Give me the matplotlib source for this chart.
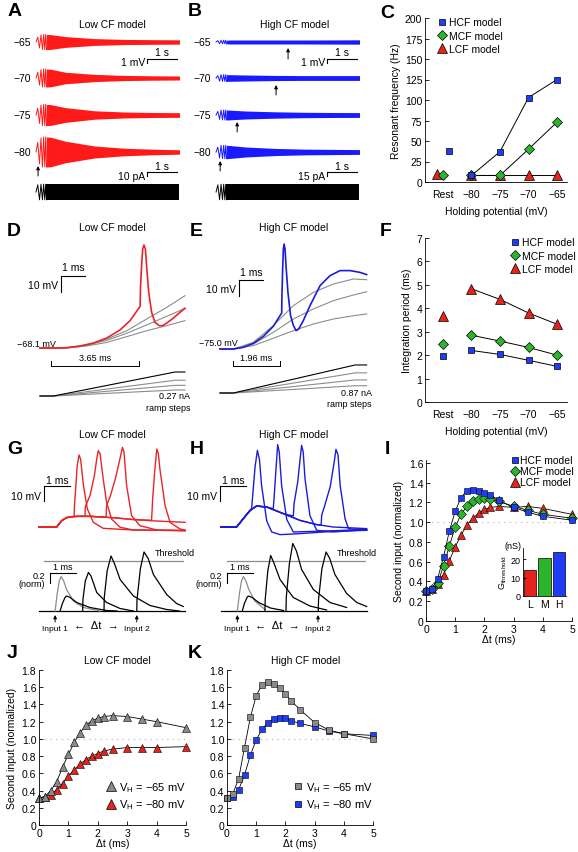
import numpy as np
import matplotlib
matplotlib.use('Agg')
import matplotlib.pyplot as plt
from matplotlib.lines import Line2D

plt.rcParams['font.family'] = ['Liberation Sans', 'DejaVu Sans']
plt.rcParams['font.size'] = 7.5

W, H = 578, 853
fig = plt.figure(figsize=(W / 100, H / 100), dpi=100)

# colours
RED = '#ff1a1a'
RED2 = '#e8242a'
BLUE = '#1a1aff'
BLUE2 = '#1c1cd6'
MBLUE = '#1f3df5'
MGREEN = '#2bb52b'
MRED = '#e5231b'
GRAY = '#8c8c8c'
MGRAY = '#8a8a8a'

# ---------------- data: A / B (chirp responses) ----------------
holding = ['\u221265', '\u221270', '\u221275', '\u221280']
row_offset = [0, -9, -18.25, -27.5]          # display offsets of stacked rows (mV)
zig_t = [0.0, 0.06, 0.12, 0.17, 0.22, 0.26, 0.30, 0.33, 0.36]   # s
env_t = [0.35, 0.5, 1.0, 2.0, 3.0, 4.0, 4.9]                   # s

low_zig = [[0, 1.2, -1.5, 1.8, -1.9, 1.9, -1.9, 1.9, -1.9],
           [0, 1.4, -1.8, 2.1, -2.25, 2.25, -2.25, 2.25, -2.25],
           [0, 1.7, -2.1, 2.5, -2.65, 2.65, -2.65, 2.65, -2.65],
           [0, 2.4, -3.0, 3.5, -3.75, 3.75, -3.75, 3.75, -3.75]]
low_env = [[1.9, 1.85, 1.35, 0.85, 0.65, 0.58, 0.54],
           [2.25, 2.2, 1.45, 0.9, 0.65, 0.55, 0.5],
           [2.65, 2.6, 1.85, 1.05, 0.75, 0.62, 0.58],
           [3.75, 3.7, 2.7, 1.5, 0.95, 0.7, 0.55]]
high_zig = [[0, 0.35, -0.45, 0.45, -0.45, 0.45, -0.45, 0.45, -0.45],
            [0, 0.6, -0.8, 0.85, -0.85, 0.85, -0.85, 0.85, -0.85],
            [0, 0.9, -1.1, 1.25, -1.25, 1.25, -1.25, 1.25, -1.25],
            [0, 1.2, -1.5, 1.67, -1.67, 1.67, -1.67, 1.67, -1.67]]
high_env = [[0.45, 0.5, 0.5, 0.5, 0.5, 0.52, 0.55],
            [0.85, 0.82, 0.75, 0.65, 0.6, 0.6, 0.6],
            [1.25, 1.2, 1.0, 0.8, 0.68, 0.62, 0.6],
            [1.67, 1.6, 1.25, 0.9, 0.72, 0.65, 0.6]]
cur_zig_low = [0, 18, -19.5, 19.5, -19.5, 19.5, -19.5, 19.5, -19.5]     # pA
cur_env_low = [19.5, 19.5, 19.5, 19.5, 19.5, 19.5, 19.5]
cur_zig_high = [0, 27, -29, 29, -29, 29, -29, 29, -29]
cur_env_high = [29, 29, 29, 29, 29, 29, 29]
arrows_low = [(0.07, -33.5, -31.0)]
arrows_high = [(2.46, -4.25, -1.5), (2.05, -13.25, -10.75),
               (0.72, -22.5, -20.0), (0.14, -32.25, -29.75)]

# ---------------- data: C / F ----------------
cats = ['Rest', '\u221280', '\u221275', '\u221270', '\u221265']
res_hcf = [38, 8, 37, 103, 125]
res_mcf = [8, 8, 8, 40, 73]
res_lcf = [10, 9, 9, 9, 9]
int_hcf = [1.95, 2.2, 2.03, 1.78, 1.52]
int_mcf = [2.48, 2.85, 2.6, 2.33, 2.0]
int_lcf = [3.68, 4.83, 4.38, 3.8, 3.32]

# ---------------- data: D / E (ramp responses) ----------------
d_red_t = [0, 0.56, 1.11, 1.67, 2.22, 2.78, 3.33, 3.75, 4.17, 4.19, 4.24, 4.28,
           4.33, 4.39, 4.44, 4.53, 4.65, 4.79, 4.97, 5.11, 5.28, 5.56, 5.83, 6.04]
d_red_v = [-68.1, -68.1, -67.9, -66.85, -65.0, -61.85, -56.85, -51.0, -42.1, -29.1,
           -14.6, -6.2, -3.7, -6.2, -16.6, -33.3, -45.8, -52.1, -54.1, -54.1,
           -52.5, -49.35, -45.8, -43.3]
d_gray_t = [0, 1.11, 1.94, 2.78, 3.61, 4.44, 5.28, 6.04]
d_gray_v = [[-68.1, -67.9, -66.2, -62.5, -57.3, -50.0, -42.7, -35.4],
            [-68.1, -67.9, -66.4, -63.3, -58.9, -53.7, -48.3, -43.3],
            [-68.1, -68.1, -66.85, -64.6, -61.0, -57.3, -54.1, -51.0]]
d_ramp_t = [0, 0.56, 5.63, 6.04]
d_ramp_amp = [1.08, 0.71, 0.48, 0.27]       # nA, black first

e_blue_t = [0, 0.56, 0.97, 1.39, 1.81, 2.22, 2.57, 2.58, 2.61, 2.64, 2.67, 2.71, 2.75,
            2.83, 2.94, 3.06, 3.17, 3.28, 3.47, 3.75, 4.17, 4.58, 5.0, 5.42, 5.83, 6.11]
e_blue_v = [-75, -75, -73.96, -71.46, -67.08, -60.83, -52.5, -41.67, -25, -12.5, -9.4,
            -12.5, -22.9, -39.6, -54.2, -60.4, -63.5, -62.5, -57.3, -47.9, -35.4,
            -29.2, -26.0, -26.0, -27.1, -28.5]
e_gray_t = [0, 0.56, 1.39, 2.22, 3.06, 3.89, 4.72, 5.56, 6.11]
e_gray_v = [[-75, -75, -70.8, -60.4, -47.9, -39.6, -34.4, -31.25, -31.7],
            [-75, -75, -71.9, -64.6, -56.25, -50, -44.8, -41.25, -39.2],
            [-75, -75, -72.9, -68.3, -63.5, -59.4, -56.25, -54.2, -53.1]]
e_ramp_t = [0, 0.56, 5.63, 6.11]
e_ramp_amp = [3.48, 2.5, 1.62, 0.9]

# ---------------- data: G / H (coincidence traces) ----------------
g_hump_t = [0, 0.68, 0.87, 1.06, 1.19, 1.35]
g_hump_v = [-65, -65, -60.8, -58.8, -58.3, -58.0]
g_tails = [
    ([1.54, 2.0, 2.5, 3.0, 3.6, 4.3, 5.0, 5.62],
     [-57.9, -57.9, -58.4, -59.0, -60.0, -60.8, -61.4, -61.9]),
    ([1.36, 1.47, 1.54, 1.60, 1.71, 1.86, 2.09, 2.47, 3.63, 5.62],
     [-51.9, -24.1, -17.0, -19.7, -37.4, -53.0, -61.9, -65.9, -67.0, -67.4]),
    ([1.54, 1.77, 1.78, 1.96, 2.13, 2.22, 2.28, 2.35, 2.47, 2.6, 2.79, 3.12, 3.63, 5.62],
     [-57.9, -57.9, -51.5, -44.1, -30.8, -19.7, -14.1, -16.3, -33, -48.6, -59.7, -65.2, -67.0, -67.4]),
    ([1.54, 2.0, 2.58, 2.60, 2.75, 2.95, 3.12, 3.21, 3.27, 3.37, 3.56, 3.88, 4.53, 5.62],
     [-57.9, -57.9, -58.6, -50.8, -44, -32, -19, -11.9, -15, -37.4, -57.4, -64.1, -67.0, -67.4]),
    ([1.54, 2.0, 2.5, 3.0, 3.6, 4.33, 4.37, 4.45, 4.53, 4.59, 4.65, 4.85, 5.04, 5.42, 5.62],
     [-57.9, -57.9, -58.4, -59.0, -60.0, -60.5, -46.5, -28, -13.0, -16, -26.3, -50.8, -61.9, -66.3, -67.0]),
]
h_hump_t = [0, 0.60, 0.86, 1.12]
h_hump_v = [-65, -65, -59.4, -53.9]
h_tails = [
    ([1.37, 1.76, 2.40, 3.04, 3.68, 4.32, 5.60],
     [-51.0, -51.7, -56.1, -60.6, -63.4, -65.0, -66.1]),
    ([1.18, 1.21, 1.31, 1.40, 1.48, 1.56, 1.76, 1.95, 2.27, 3.04, 4.32, 5.60],
     [-52.5, -46.1, -25, -13.9, -20, -37.2, -61, -68.3, -70.1, -69.4, -67.9, -67.2]),
    ([1.37, 1.76, 2.01, 2.04, 2.12, 2.18, 2.24, 2.33, 2.53, 2.78, 3.42, 4.32, 5.60],
     [-51.0, -51.7, -52.8, -46.1, -25, -10.1, -15, -37.2, -60, -68.3, -68.0, -67.5, -66.6]),
    ([1.37, 1.76, 2.40, 2.78, 2.81, 2.95, 3.04, 3.10, 3.16, 3.23, 3.42, 3.68, 4.32, 5.60],
     [-51.0, -51.7, -56.1, -57.7, -49.4, -35, -20, -10.6, -15, -32.8, -57.5, -67.2, -68.3, -66.8]),
    ([1.37, 1.76, 2.40, 3.04, 3.68, 3.85, 3.87, 4.0, 4.2, 4.35, 4.42, 4.5, 4.58, 4.77, 4.90, 5.60],
     [-51.0, -51.7, -56.1, -60.6, -63.4, -63.8, -57.2, -50, -38, -22, -13.2, -17, -37.2, -59.5, -66.1, -67.2]),
]
g_epsp_gray = ([0.62, 0.70, 0.78, 0.85, 0.95, 1.06, 1.32, 1.71, 2.35],
               [0, 0.35, 0.6, 0.69, 0.6, 0.43, 0.2, 0.07, 0])
g_epsp_black = [
    ([0.81, 0.9, 1.0, 1.06, 1.2, 1.45, 1.96, 2.6, 3.0],
     [0, 0.15, 0.27, 0.3, 0.27, 0.17, 0.07, 0.01, 0]),
    ([1.68, 1.69, 1.78, 1.90, 2.0, 2.22, 2.6, 3.12, 3.63],
     [0, 0.23, 0.6, 0.77, 0.7, 0.37, 0.17, 0.05, 0]),
    ([2.5, 2.51, 2.62, 2.77, 2.9, 3.12, 3.63, 4.27, 4.91, 5.4],
     [0, 0.27, 0.8, 1.1, 0.95, 0.63, 0.3, 0.11, 0.03, 0.0]),
    ([3.76, 3.77, 3.9, 4.04, 4.2, 4.4, 4.91, 5.29, 5.55],
     [0, 0.23, 0.85, 1.18, 1.05, 0.73, 0.33, 0.15, 0.09]),
]
h_epsp_gray = ([0.63, 0.71, 0.79, 0.86, 0.96, 1.07, 1.3, 1.69],
               [0, 0.35, 0.6, 0.69, 0.6, 0.43, 0.2, 0.03])
h_epsp_black = [
    ([0.82, 0.9, 1.0, 1.05, 1.2, 1.45, 1.9, 2.4],
     [0, 0.15, 0.27, 0.3, 0.27, 0.17, 0.06, 0.01]),
    ([1.69, 1.70, 1.80, 1.91, 2.02, 2.27, 2.78, 3.42, 4.06],
     [0, 0.23, 0.8, 1.11, 0.98, 0.63, 0.27, 0.1, 0.02]),
    ([2.50, 2.51, 2.63, 2.76, 2.90, 3.10, 3.55, 4.19, 4.83],
     [0, 0.27, 0.95, 1.35, 1.2, 0.83, 0.43, 0.17, 0.07]),
    ([3.74, 3.75, 3.88, 4.04, 4.18, 4.38, 4.83, 5.22, 5.6],
     [0, 0.23, 0.85, 1.18, 1.05, 0.73, 0.35, 0.17, 0.09]),
]

# ---------------- data: I / J / K ----------------
dt = [0, 0.2, 0.4, 0.6, 0.8, 1.0, 1.2, 1.4, 1.6, 1.8, 2.0, 2.2, 2.5, 3, 3.5, 4, 5]
sec_hcf = [0.30, 0.32, 0.43, 0.65, 0.91, 1.11, 1.25, 1.32, 1.33, 1.32, 1.30, 1.28, 1.22, 1.15, 1.10, 1.06, 1.02]
sec_mcf = [0.30, 0.32, 0.38, 0.56, 0.76, 0.95, 1.08, 1.16, 1.21, 1.24, 1.25, 1.24, 1.21, 1.16, 1.12, 1.08, 1.04]
sec_lcf = [0.30, 0.32, 0.37, 0.47, 0.61, 0.75, 0.87, 0.97, 1.04, 1.09, 1.13, 1.15, 1.16, 1.15, 1.16, 1.14, 1.08]
g_names = ['L', 'M', 'H']
g_thresh = [14, 20.5, 24]
low_m65 = [0.31, 0.33, 0.40, 0.50, 0.67, 0.82, 0.96, 1.07, 1.16, 1.21, 1.24, 1.26, 1.27, 1.26, 1.23, 1.20, 1.13]
low_m80 = [0.31, 0.33, 0.35, 0.41, 0.48, 0.57, 0.64, 0.71, 0.76, 0.80, 0.83, 0.86, 0.88, 0.90, 0.90, 0.90, 0.91]
high_m65 = [0.31, 0.36, 0.54, 0.90, 1.25, 1.50, 1.63, 1.66, 1.64, 1.59, 1.52, 1.44, 1.34, 1.19, 1.10, 1.06, 1.00]
high_m80 = [0.31, 0.33, 0.41, 0.58, 0.81, 0.99, 1.11, 1.19, 1.23, 1.24, 1.24, 1.21, 1.18, 1.14, 1.09, 1.06, 1.04]


# ---------------- helpers ----------------
def box(x0, y0, x1, y1):
    return fig.add_axes([x0 / W, 1 - y1 / H, (x1 - x0) / W, (y1 - y0) / H])


def trace_box(x0, y0, x1, y1, xlim, ylim):
    ax = box(x0, y0, x1, y1)
    ax.set_xlim(xlim)
    ax.set_ylim(ylim)
    ax.axis('off')
    return ax


def ftext(x, y, s, **kw):
    fig.text(x / W, 1 - y / H, s, **kw)


def scalebar(ax, x, y, dx, dy):
    ax.plot([x, x + dx], [y, y], color='k', lw=0.8, clip_on=False)
    ax.plot([x, x], [y, y - dy], color='k', lw=0.8, clip_on=False)


def up_arrow(ax, x, y0, y1):
    ax.annotate('', xy=(x, y1), xytext=(x, y0),
                arrowprops=dict(arrowstyle='-|>', lw=0.7, color='k', mutation_scale=5,
                                shrinkA=0, shrinkB=0))


def style(ax):
    for s in ['top', 'right']:
        ax.spines[s].set_visible(False)
    for s in ['left', 'bottom']:
        ax.spines[s].set_linewidth(0.6)
    ax.tick_params(direction='in', length=3, width=0.6, labelsize=7.5, pad=2)


for x, y, s in [(8, 12, 'A'), (188, 12, 'B'), (380, 13, 'C'), (7, 232, 'D'), (190, 232, 'E'),
                (380, 232, 'F'), (7, 450, 'G'), (190, 450, 'H'), (385, 450, 'I'),
                (7, 653, 'J'), (188, 653, 'K')]:
    ftext(x, y, s, fontsize=14, fontweight='bold', ha='left', va='center')

for x, y, s in [(112, 25, 'Low CF model'), (295, 25, 'High CF model'),
                (112, 228, 'Low CF model'), (294, 228, 'High CF model'),
                (112, 435, 'Low CF model'), (294, 435, 'High CF model'),
                (117, 661, 'Low CF model'), (306, 661, 'High CF model')]:
    ftext(x, y, s, fontsize=7.5, ha='center', va='center')


# ---------------- A / B ----------------
def chirp_panel(x0, x1, xlim, zigs, envs, color, arrows, cur_zig, cur_env, cur_ylim, cur_bar, cur_lab):
    ax = trace_box(x0, 28, x1, 182, xlim, (-34.75, 3.75))
    for i in range(4):
        off = row_offset[i]
        ax.plot(zig_t, np.array(zigs[i]) + off, color=color, lw=0.7)
        ax.fill_between(env_t, off - np.array(envs[i]), off + np.array(envs[i]), color=color, lw=0)
        ax.text(-0.17, off, holding[i], ha='right', va='center', fontsize=7.5)
    scalebar(ax, 3.8, -4.25, 1.0, 1.0)
    ax.text(4.3, -2.5, '1 s', ha='center', va='center')
    ax.text(3.72, -4.9, '1 mV', ha='right', va='center')
    for t, a, b in arrows:
        up_arrow(ax, t, a, b)
    axc = trace_box(x0, 165, x1, 205, xlim, cur_ylim)
    axc.plot(zig_t, cur_zig, color='k', lw=0.7)
    axc.fill_between(env_t, -np.array(cur_env), np.array(cur_env), color='k', lw=0)
    scalebar(axc, 3.8, cur_bar, 1.0, cur_bar / 5.0)
    axc.text(4.3, cur_bar * 1.3, '1 s', ha='center', va='center')
    axc.text(3.72, cur_bar * 0.8, cur_lab, ha='right', va='center')


chirp_panel(0, 195, (-1.23, 5.43), low_zig, low_env, RED, arrows_low,
            cur_zig_low, cur_env_low, (-30, 70), 50, '10 pA')
chirp_panel(195, 375, (-0.72, 5.43), high_zig, high_env, BLUE, arrows_high,
            cur_zig_high, cur_env_high, (-45, 105), 75, '15 pA')

# ---------------- C / F ----------------
mk = {'HCF': ('s', MBLUE, 5), 'MCF': ('D', MGREEN, 5.5), 'LCF': ('^', MRED, 6.5)}
pos = np.arange(len(cats))


def holding_panel(rect, series, rest_shift, ylim, yticks, ylabel, leg_loc, leg_anchor):
    ax = box(*rect)
    style(ax)
    for key in ['LCF', 'MCF', 'HCF']:
        vals = series[key]
        m, c, ms = mk[key]
        ax.plot(pos[1:], vals[1:], color='k', lw=0.7, zorder=2)
        ax.plot(list(pos[1:]) + [rest_shift[key]], list(vals[1:]) + [vals[0]], ls='none',
                marker=m, ms=ms, mfc=c, mec='k', mew=0.5, zorder=3, clip_on=False)
    ax.set_xlim(-0.63, 4.35)
    ax.set_ylim(*ylim)
    ax.set_yticks(yticks)
    ax.set_xticks(pos)
    ax.set_xticklabels(cats)
    ax.tick_params(axis='x', length=0, pad=5)
    ax.set_xlabel('Holding potential (mV)', fontsize=7.5, labelpad=5)
    ax.set_ylabel(ylabel, fontsize=7.5, labelpad=3)
    hs = [Line2D([], [], ls='none', marker=mk[k][0], ms=mk[k][2], mfc=mk[k][1], mec='k', mew=0.5)
          for k in ['HCF', 'MCF', 'LCF']]
    ax.legend(hs, ['HCF model', 'MCF model', 'LCF model'], loc=leg_loc, bbox_to_anchor=leg_anchor,
              frameon=False, fontsize=7.5, handlelength=0.8, handletextpad=0.3,
              labelspacing=0.3, borderpad=0.1, borderaxespad=0)
    return ax


holding_panel((425, 19, 567, 183), {'HCF': res_hcf, 'MCF': res_mcf, 'LCF': res_lcf},
              {'LCF': -0.2, 'MCF': 0.0, 'HCF': 0.2}, (0, 200), np.arange(0, 201, 25),
              'Resonant frequency (Hz)', 'upper left', (0.08, 1.01))
holding_panel((425, 239, 567, 403), {'HCF': int_hcf, 'MCF': int_mcf, 'LCF': int_lcf},
              {'LCF': 0.0, 'MCF': 0.0, 'HCF': 0.0}, (0, 7), np.arange(0, 8, 1),
              'Integration period (ms)', 'upper right', (1.07, 1.01))

# ---------------- D / E ----------------
def ramp_panel(x0, x1, xlim, ylim, vt, vv, gt, gv, color, bar_xy, base_lab, base_xy,
               bracket, rlim, rt, ramps, ramp_lab, lab_x):
    ax = trace_box(x0, 225, x1, 370, xlim, ylim)
    for g in gv:
        ax.plot(gt, g, color=GRAY, lw=0.8)
    ax.plot(vt, vv, color=color, lw=1.2)
    bx, by = bar_xy
    scalebar(ax, bx, by, 1.0, 10.0)
    ax.text(bx + 0.5, by + 2.2, '1 ms', ha='center', va='bottom', fontsize=7.5)
    ax.text(bx - 0.12, by - 5.5, '10 mV', ha='right', va='center', fontsize=7.5)
    ax.text(base_xy[0], base_xy[1], base_lab, ha='left', va='center', fontsize=6.5)
    b0, b1, byy, lab = bracket
    ax.plot([b0, b0, b1, b1], [byy + 3.1, byy, byy, byy + 3.1], color='k', lw=0.7, clip_on=False)
    ax.text((b0 + b1) / 2, byy + 5.5, lab, ha='center', va='center', fontsize=6.5)
    axr = trace_box(x0, 365, x1, 400, xlim, rlim)
    for i, a in enumerate(ramps[::-1]):
        c = 'k' if i == len(ramps) - 1 else GRAY
        axr.plot(rt, [0, 0, a, a], color=c, lw=0.8)
    axr.text(lab_x, 0.03 * rlim[1], ramp_lab, ha='right', va='center', fontsize=6.5)
    axr.text(lab_x, -0.36 * rlim[1], 'ramp steps', ha='right', va='center', fontsize=6.5)


ramp_panel(0, 195, (-1.667, 6.458), (-81.2, 9.4), d_red_t, d_red_v, d_gray_t, d_gray_v,
           RED2, (0.875, -23.1), '\u221268.1 mV', (-0.96, -65.0),
           (0.46, 4.11, -79.35, '3.65 ms'), (-0.135, 1.44), d_ramp_t, d_ramp_amp,
           '0.27 nA', 6.25)
ramp_panel(190, 375, (-1.25, 6.458), (-87.5, 3.125), e_blue_t, e_blue_v, e_gray_t, e_gray_v,
           BLUE2, (0.79, -31.9), '\u221275.0 mV', (-0.875, -71.25),
           (0.54, 2.50, -85.6, '1.96 ms'), (-0.745, 3.6), e_ramp_t, e_ramp_amp,
           '0.87 nA', 6.33)

# ---------------- G / H ----------------
def coinc_panel(x0, x1, xlim, hump_t, hump_v, tails, color, bar_x, epsp_gray, epsp_black,
                thr, base_end, bar2_x, in1, in2, dt_x, thr_x):
    ax = trace_box(x0, 440, x1, 540, xlim, (-73, -6.33))
    for tt, vv in tails:
        ax.plot(list(hump_t) + list(tt), list(hump_v) + list(vv), color=color, lw=1.0)
    scalebar(ax, bar_x, -37.7, 1.0, 10.0)
    ax.text(bar_x + 0.5, -33.5, '1 ms', ha='center', va='center', fontsize=7.5)
    ax.text(bar_x - 0.1, -44.3, '10 mV', ha='right', va='center', fontsize=7.5)

    axb = trace_box(x0, 540, x1, 640, xlim, (-0.56, 1.44))
    axb.plot([0, base_end], [0, 0], color='k', lw=0.9)
    axb.plot(thr, [1.0, 1.0], color=GRAY, lw=0.9)
    axb.text(thr_x, 1.16, 'Threshold', ha='right', va='center', fontsize=6.5)
    axb.plot(epsp_gray[0], epsp_gray[1], color=GRAY, lw=0.9)
    for tt, vv in epsp_black:
        axb.plot(tt, vv, color='k', lw=0.9)
    axb.plot([bar2_x, bar2_x + 1.0], [0.76, 0.76], color='k', lw=0.8)
    axb.plot([bar2_x, bar2_x], [0.76, 0.56], color='k', lw=0.8)
    axb.text(bar2_x + 0.5, 0.88, '1 ms', ha='center', va='center', fontsize=6.5)
    axb.text(bar2_x - 0.2, 0.70, '0.2', ha='right', va='center', fontsize=6.5)
    axb.text(bar2_x - 0.2, 0.55, '(norm)', ha='right', va='center', fontsize=6.5)
    for t, lab in [(in1, 'Input 1'), (in2, 'Input 2')]:
        up_arrow(axb, t, -0.22, -0.08)
        axb.text(t, -0.36, lab, ha='center', va='center', fontsize=6)
    axb.text(dt_x, -0.29, '\u2190  \u0394t  \u2192', ha='center', va='center', fontsize=8)


coinc_panel(0, 195, (-1.5, 6.0), g_hump_t, g_hump_v, g_tails, RED2, 0.19,
            g_epsp_gray, g_epsp_black, [0.2, 5.55], 5.62, 0.42, 0.62, 3.76, 2.2, 6.0)
coinc_panel(190, 375, (-1.19, 5.92), h_hump_t, h_hump_v, h_tails, BLUE2, -0.04,
            h_epsp_gray, h_epsp_black, [0.22, 5.54], 5.6, 0.23, 0.63, 3.73, 2.15, 6.0)

# ---------------- I ----------------
def norm_axes(rect, ytop, yticks):
    ax = box(*rect)
    style(ax)
    ax.axhline(1.0, color='#b0b0b0', lw=0.8, ls=(0, (1, 4)), zorder=0)
    ax.set_xlim(0, 5)
    ax.set_ylim(0, ytop)
    ax.set_xticks(range(6))
    ax.set_yticks(yticks)
    ax.set_yticklabels(['0'] + ['%.1f' % v for v in yticks[1:]])
    ax.set_xlabel('\u0394t (ms)', fontsize=7.5, labelpad=0)
    return ax


axI = norm_axes((426, 461, 572, 622), 1.63, [0, 0.2, 0.4, 0.6, 0.8, 1.0, 1.2, 1.4, 1.6])
axI.set_ylabel('Second input (normalized)', fontsize=7.5, labelpad=3)
for vals, key in [(sec_lcf, 'LCF'), (sec_mcf, 'MCF'), (sec_hcf, 'HCF')]:
    m, c, ms = mk[key]
    axI.plot(dt, vals, color='k', lw=0.6, marker=m, ms=ms * 0.85, mfc=c, mec='k', mew=0.4,
             clip_on=False)
hs = [Line2D([], [], ls='none', marker=mk[k][0], ms=mk[k][2], mfc=mk[k][1], mec='k', mew=0.5)
      for k in ['HCF', 'MCF', 'LCF']]
axI.legend(hs, ['HCF model', 'MCF model', 'LCF model'], loc='upper right', bbox_to_anchor=(1.01, 1.03),
           frameon=False, fontsize=7.5, handlelength=0.7, handletextpad=0.1,
           labelspacing=0.1, borderpad=0, borderaxespad=0)

axIn = box(523, 549, 566, 597)
style(axIn)
axIn.bar(range(3), g_thresh, width=0.85, color=[MRED, MGREEN, MBLUE], edgecolor='k', linewidth=0.5)
axIn.set_xlim(-0.5, 2.5)
axIn.set_ylim(0, 26)
axIn.set_yticks([0, 10, 20])
axIn.set_xticks(range(3))
axIn.set_xticklabels(g_names, fontsize=7.5)
axIn.tick_params(axis='x', length=0)
axIn.tick_params(axis='y', labelsize=6.5, length=2)
axIn.set_ylabel(r'G$_\mathregular{threshold}$', fontsize=6.5, labelpad=1)
axIn.text(-0.6, 27.5, '(nS)', ha='right', va='center', fontsize=6.5)

# ---------------- J / K ----------------
jt = [0, 0.2, 0.4, 0.6, 0.8, 1.0, 1.2, 1.4, 1.6, 1.8]
axJ = norm_axes((39, 671, 186, 826), 1.8, jt)
axJ.set_ylabel('Second input (normalized)', fontsize=7.5, labelpad=3)
axJ.plot(dt, low_m80, color='k', lw=0.6, marker='^', ms=6, mfc=MRED, mec='k', mew=0.4, clip_on=False)
axJ.plot(dt, low_m65, color='k', lw=0.6, marker='^', ms=6, mfc=MGRAY, mec='k', mew=0.4, clip_on=False)
hJ = [Line2D([], [], ls='none', marker='^', ms=7, mfc=c, mec='k', mew=0.5) for c in [MGRAY, MRED]]
axJ.legend(hJ, ['V$_\\mathregular{H}$ = \u221265 mV', 'V$_\\mathregular{H}$ = \u221280 mV'],
           loc='lower right', bbox_to_anchor=(1.03, 0.06), frameon=False, fontsize=8,
           handlelength=0.8, handletextpad=0.3, labelspacing=0.3, borderaxespad=0)

axK = norm_axes((227, 671, 373, 826), 1.8, jt)
axK.plot(dt, high_m80, color='k', lw=0.6, marker='s', ms=4.5, mfc=MBLUE, mec='k', mew=0.4, clip_on=False)
axK.plot(dt, high_m65, color='k', lw=0.6, marker='s', ms=4.5, mfc=MGRAY, mec='k', mew=0.4, clip_on=False)
hK = [Line2D([], [], ls='none', marker='s', ms=5, mfc=c, mec='k', mew=0.5) for c in [MGRAY, MBLUE]]
axK.legend(hK, ['V$_\\mathregular{H}$ = \u221265 mV', 'V$_\\mathregular{H}$ = \u221280 mV'],
           loc='lower right', bbox_to_anchor=(1.03, 0.06), frameon=False, fontsize=8,
           handlelength=0.8, handletextpad=0.3, labelspacing=0.3, borderaxespad=0)

fig.savefig('out.png', dpi=100)
